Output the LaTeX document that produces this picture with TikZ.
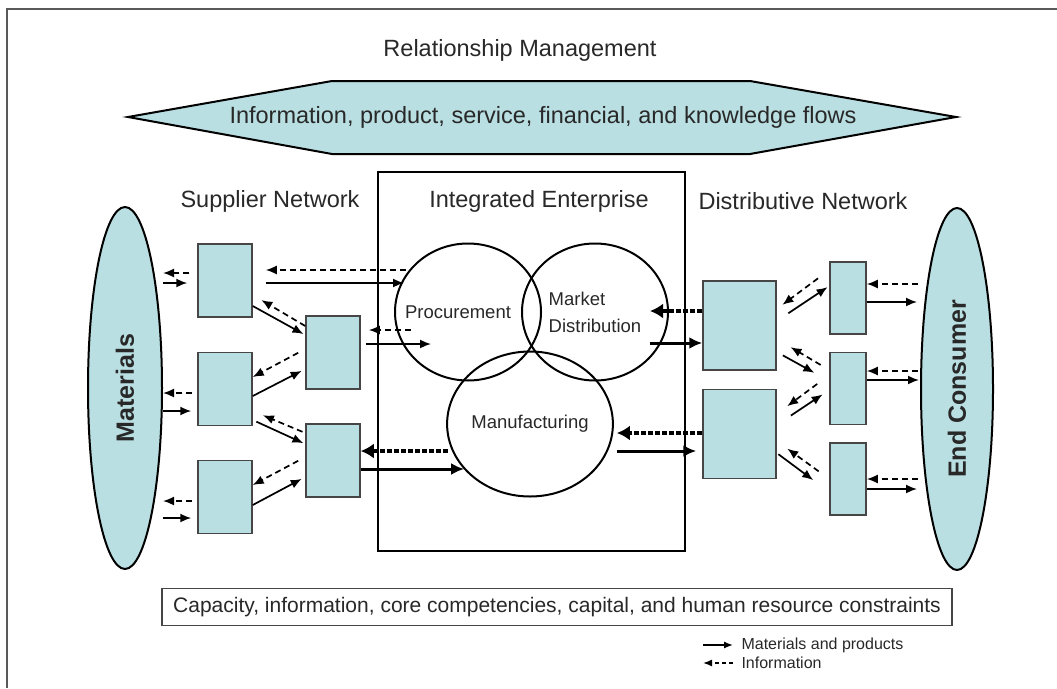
\documentclass[tikz,border=0pt]{standalone}
\usepackage{fontspec}
\setmainfont{Liberation Sans}
\usetikzlibrary{arrows.meta,shapes.geometric}

\definecolor{flowblue}{RGB}{185,223,226}
\definecolor{boxline}{RGB}{70,70,70}
\definecolor{txtgray}{RGB}{40,40,40}

\tikzset{
  every node/.style={text=txtgray},
  heading/.style={font=\fontsize{23.5}{28}\selectfont},
  firm/.style={draw=boxline, line width=1.5pt, fill=flowblue, inner sep=0pt},
  hub/.style={ellipse, draw=black, line width=2pt, fill=flowblue, inner sep=0pt,
    font=\fontsize{25}{30}\selectfont\bfseries},
  func/.style={ellipse, draw=black, line width=2pt, inner sep=0pt,
    font=\fontsize{18.5}{27}\selectfont},
  matflow/.style={line width=1.7pt, -{Latex[length=11pt,width=9pt]}},
  infoflow/.style={line width=1.7pt, dash pattern=on 6pt off 4pt, -{Latex[length=11pt,width=9pt]}},
  bigmat/.style={line width=3pt, -{Latex[length=13pt,width=12pt]}},
  biginfo/.style={line width=3.5pt, dash pattern=on 5pt off 2pt, -{Latex[length=13pt,width=15pt]}},
}

\begin{document}
\begin{tikzpicture}[x=1pt, y=-1pt]
    % --- Configuration ---
    \def\sw{54pt}   % supplier box width
    \def\sh{73pt}   % supplier box height
    \def\dw{73pt}   % distributor box width
    \def\dh{89pt}   % distributor box height
    \def\cw{36pt}   % customer-side box width
    \def\ch{72pt}   % customer-side box height

    \useasboundingbox (0,0) rectangle (1057,688);

    % --- Frame ---
    \draw[black!65, line width=2pt] (7,688) -- (7,9) -- (1057,9);

    % --- Relationship Management ---
    \node[heading] (relm) at (520,50) {Relationship Management};
    \draw[fill=flowblue, line width=2pt]
        (128,117) -- (332,81) -- (750,81) -- (956,117) -- (750,154) -- (332,154) -- cycle;
    \node[heading] (flows) at (543,117) {Information, product, service, financial, and knowledge flows};

    % --- Headings ---
    \node[heading] (supnet) at (270,201) {Supplier Network};
    \node[heading] (intent) at (539,201) {Integrated Enterprise};
    \node[heading] (distnet) at (803,201) {Distributive Network};

    % --- Integrated Enterprise ---
    \node[draw=black, line width=1.8pt, inner sep=0pt, minimum width=307pt, minimum height=379pt] (ent) at (531.5,361.5) {};
    \node[func, minimum width=146pt, minimum height=137pt] (proc) at (468,312) {};
    \node[font=\fontsize{18.5}{27}\selectfont] (procT) at (458,312) {Procurement};
    \node[func, align=left, minimum width=146pt, minimum height=137pt] (mkt) at (595,312) {Market\\Distribution};
    \node[func, minimum width=160pt, minimum height=145pt] (manu) at (530,424) {Manufacturing};

    % --- Ends of the chain ---
    \node[hub, minimum width=74pt, minimum height=362pt] (mat) at (125,388) {\rotatebox{90}{Materials}};
    \node[hub, minimum width=72pt, minimum height=362pt] (endc) at (957,389) {\rotatebox{90}{End Consumer}};

    % --- Supplier network ---
    \node[firm, minimum width=\sw, minimum height=\sh] (sA) at (225,280.5) {};
    \node[firm, minimum width=\sw, minimum height=\sh] (sB) at (225,389) {};
    \node[firm, minimum width=\sw, minimum height=\sh] (sC) at (225,497) {};
    \node[firm, minimum width=\sw, minimum height=\sh] (sD) at (333,352.5) {};
    \node[firm, minimum width=\sw, minimum height=\sh] (sE) at (333,460.5) {};

    % --- Distributive network ---
    \node[firm, minimum width=\dw, minimum height=\dh] (dF) at (739.5,325.5) {};
    \node[firm, minimum width=\dw, minimum height=\dh] (dG) at (739.5,434) {};
    \node[firm, minimum width=\cw, minimum height=\ch] (cH) at (848,298) {};
    \node[firm, minimum width=\cw, minimum height=\ch] (cI) at (848,388.5) {};
    \node[firm, minimum width=\cw, minimum height=\ch] (cJ) at (848,479) {};

    % --- Flows: materials <-> suppliers ---
    \draw[infoflow, shorten <=8pt] (sA.west |- 0,273) -- (mat.east |- 0,273);
    \draw[matflow, shorten >=10pt] (mat.east |- 0,283) -- (sA.west |- 0,283);
    \draw[infoflow, shorten <=5pt] (sB.west |- 0,393) -- (mat.east |- 0,393);
    \draw[matflow, shorten >=6pt] (mat.east |- 0,411) -- (sB.west |- 0,411);
    \draw[infoflow, shorten <=5pt] (sC.west |- 0,501) -- (mat.east |- 0,501);
    \draw[matflow, shorten >=6pt] (mat.east |- 0,518) -- (sC.west |- 0,518);

    % --- Flows: between suppliers ---
    \draw[matflow, shorten >=2pt] (sA.east |- 0,306) -- (sD.west |- 0,335);
    \draw[infoflow, shorten >=10pt] (sD.west |- 0,326) -- (sA.east |- 0,295);
    \draw[infoflow, shorten <=8pt] (sD.west |- 0,349) -- (sB.east |- 0,377);
    \draw[matflow, shorten >=4pt] (sB.east |- 0,396) -- (sD.west |- 0,369);
    \draw[matflow, shorten <=4pt, shorten >=2pt] (sB.east |- 0,420) -- (sE.west |- 0,444);
    \draw[infoflow, shorten <=3pt, shorten >=11pt] (sE.west |- 0,433) -- (sB.east |- 0,411);
    \draw[infoflow, shorten <=8pt] (sE.west |- 0,457) -- (sC.east |- 0,485);
    \draw[matflow, shorten >=4pt] (sC.east |- 0,505) -- (sE.west |- 0,477);

    % --- Flows: suppliers <-> enterprise ---
    \draw[infoflow, shorten <=-12pt, shorten >=13pt] (proc.west |- 0,270) -- (sA.east |- 0,270);
    \draw[matflow, shorten <=13pt, shorten >=-10pt] (sA.east |- 0,283) -- (proc.west |- 0,283);
    \draw[infoflow, shorten <=-17pt, shorten >=8pt] (proc.west |- 0,330) -- (sD.east |- 0,330);
    \draw[matflow, shorten <=5pt, shorten >=-37pt] (sD.east |- 0,344) -- (proc.west |- 0,344);
    \draw[biginfo, shorten <=-2pt] (manu.west |- 0,451) -- (sE.east |- 0,451);
    \draw[bigmat, shorten >=-18pt] (sE.east |- 0,469) -- (manu.west |- 0,469);

    % --- Flows: enterprise <-> distributors ---
    \draw[biginfo, shorten >=-19pt] (dF.west |- 0,311) -- (mkt.east |- 0,311);
    \draw[bigmat, shorten <=-19pt] (mkt.east |- 0,343) -- (dF.west |- 0,343);
    \draw[biginfo, shorten >=3pt] (dG.west |- 0,433) -- (manu.east |- 0,433);
    \draw[bigmat, shorten <=3pt, shorten >=6pt] (manu.east |- 0,451) -- (dG.west |- 0,451);

    % --- Flows: between distributors ---
    \draw[infoflow, shorten <=14pt, shorten >=7pt] (cH.west |- 0,270) -- (dF.east |- 0,309);
    \draw[matflow, shorten <=14pt, shorten >=2pt] (dF.east |- 0,321) -- (cH.west |- 0,286);
    \draw[infoflow, shorten <=10pt, shorten >=16pt] (cI.west |- 0,370) -- (dF.east |- 0,339);
    \draw[matflow, shorten <=7pt, shorten >=17pt] (dF.east |- 0,352) -- (cI.west |- 0,381);
    \draw[infoflow, shorten <=15pt, shorten >=13pt] (cI.west |- 0,375) -- (dG.east |- 0,414);
    \draw[matflow, shorten <=17pt, shorten >=8pt] (dG.east |- 0,425) -- (cI.west |- 0,390);
    \draw[infoflow, shorten <=13pt, shorten >=13pt] (cJ.west |- 0,479) -- (dG.east |- 0,441);
    \draw[matflow, shorten <=2pt, shorten >=20pt] (dG.east |- 0,453) -- (cJ.west |- 0,492);

    % --- Flows: distributors <-> end consumer ---
    \draw[infoflow, shorten <=2pt] (endc.west |- 0,284) -- (cH.east |- 0,284);
    \draw[matflow, shorten >=3pt] (cH.east |- 0,302) -- (endc.west |- 0,302);
    \draw[infoflow, shorten <=2pt] (endc.west |- 0,371) -- (cI.east |- 0,371);
    \draw[matflow, shorten >=1pt] (cI.east |- 0,380) -- (endc.west |- 0,380);
    \draw[infoflow, shorten <=2pt] (endc.west |- 0,479) -- (cJ.east |- 0,479);
    \draw[matflow, shorten >=3pt] (cJ.east |- 0,489) -- (endc.west |- 0,489);

    % --- Constraints ---
    \node[draw=boxline, line width=1.2pt, inner sep=0pt, minimum width=790pt, minimum height=37pt,
          font=\fontsize{21}{25}\selectfont] (limits) at (557,607)
        {Capacity, information, core competencies, capital, and human resource constraints};

    % --- Legend ---
    \node[anchor=west, font=\fontsize{16}{19}\selectfont] (legmat) at (738,645) {Materials and products};
    \node[anchor=west, font=\fontsize{16}{19}\selectfont] (leginfo) at (738,663) {Information};
    \draw[line width=1.4pt, -{Latex[length=9pt,width=7pt]}] ([xshift=-35pt]legmat.west) -- ([xshift=-5pt]legmat.west);
    \draw[line width=1.4pt, dash pattern=on 4pt off 3pt, -{Latex[length=9pt,width=7pt]}]
        ([xshift=-5pt]leginfo.west) -- ([xshift=-35pt]leginfo.west);

\end{tikzpicture}
\end{document}
